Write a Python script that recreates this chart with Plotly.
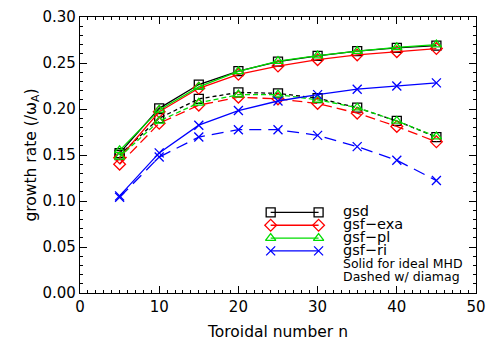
import plotly.graph_objects as go

# Toroidal mode numbers
n_vals = [5, 10, 15, 20, 25, 30, 35, 40, 45]

# Growth rates (normalised to omega_A), ideal MHD (solid)
gsd_ideal = [0.152, 0.2007, 0.2266, 0.2412, 0.2515, 0.2578, 0.2630, 0.2664, 0.2689]
exa_ideal = [0.147, 0.1970, 0.2225, 0.2377, 0.2467, 0.2536, 0.2588, 0.2623, 0.2657]
pl_ideal = [0.155, 0.1990, 0.2240, 0.2410, 0.2520, 0.2580, 0.2630, 0.2670, 0.2700]
ri_ideal = [0.1056, 0.1523, 0.1824, 0.1983, 0.2087, 0.2156, 0.2215, 0.2250, 0.2284]

# Growth rates with diamagnetic effects (dashed)
gsd_dia = [0.150, 0.1900, 0.2110, 0.2180, 0.2170, 0.2118, 0.2014, 0.1870, 0.1695]
exa_dia = [0.140, 0.1845, 0.2042, 0.2128, 0.2110, 0.2060, 0.1955, 0.1810, 0.1643]
pl_dia = [0.148, 0.1870, 0.2066, 0.2156, 0.2156, 0.2100, 0.2014, 0.1870, 0.1700]
ri_dia = [0.104, 0.1478, 0.1695, 0.1775, 0.1775, 0.1713, 0.1591, 0.1443, 0.1222]

y_ticks = [0.00, 0.05, 0.10, 0.15, 0.20, 0.25, 0.30]

series_names = ["gsd", "gsf\u2212exa", "gsf\u2212pl", "gsf\u2212ri"]
note_lines = ["Solid for ideal MHD", "Dashed w/ diamag"]
colors = ["black", "#ff0000", "#00dd00", "#0000ff"]
symbols = ["square-open", "diamond-open", "triangle-up-open", "x-thin-open"]
dashes = ["4px,3px", "10px,5px", "5px,3px", "12px,7px"]
ideal = [gsd_ideal, exa_ideal, pl_ideal, ri_ideal]
dia = [gsd_dia, exa_dia, pl_dia, ri_dia]

FONT = "DejaVu Sans"
LW = 1.3
MS = 9

fig = go.Figure()
for col, sym, dsh, yi, yd in zip(colors, symbols, dashes, ideal, dia):
    mk = dict(symbol=sym, size=MS, color=col, line=dict(color=col, width=LW))
    fig.add_trace(go.Scatter(x=n_vals, y=yd, mode="lines+markers", showlegend=False,
                             line=dict(color=col, width=LW, dash=dsh), marker=mk))
    fig.add_trace(go.Scatter(x=n_vals, y=yi, mode="lines+markers", showlegend=False,
                             line=dict(color=col, width=LW), marker=mk))

# Key drawn in a hidden unit-square overlay (IDL style: symbol at both ends of the sample line)
KEY_X0, KEY_X1, KEY_TXT = 0.4815, 0.6025, 0.660
KEY_ROW0, KEY_STEP = 0.292, 0.0465
for i, (name, col, sym) in enumerate(zip(series_names, colors, symbols)):
    ry = KEY_ROW0 - i * KEY_STEP
    fig.add_trace(go.Scatter(
        x=[KEY_X0, KEY_X1], y=[ry, ry], mode="lines+markers", xaxis="x2", yaxis="y2",
        showlegend=False, hoverinfo="skip",
        line=dict(color=col, width=LW),
        marker=dict(symbol=sym, size=MS, color=col, line=dict(color=col, width=LW)),
    ))
    fig.add_annotation(xref="x2", yref="y2", x=KEY_TXT, y=ry + 0.005, xanchor="left", yanchor="middle",
                       text=name, showarrow=False, font=dict(family=FONT, size=14.5, color="black"))
for j, txt in enumerate(note_lines):
    ry = KEY_ROW0 - (len(series_names) + j) * KEY_STEP
    fig.add_annotation(xref="x2", yref="y2", x=KEY_TXT, y=ry, xanchor="left", yanchor="middle",
                       text=txt, showarrow=False, font=dict(family=FONT, size=12.5, color="black"))

axis_common = dict(
    showline=True, linecolor="black", linewidth=1.2, mirror="allticks",
    ticks="inside", ticklen=7, tickwidth=1, tickcolor="black",
    showgrid=False, zeroline=False, ticklabeloverflow="allow",
    tickfont=dict(family=FONT, size=15, color="black"),
)

fig.update_xaxes(
    range=[0, 50], dtick=10, tick0=0,
    minor=dict(ticks="inside", dtick=1, ticklen=3, tickcolor="black"),
    title=dict(text="Toroidal number n", font=dict(family=FONT, size=15.5, color="black"), standoff=11),
    **axis_common,
)
fig.update_yaxes(
    range=[0, 0.30], tickmode="array", tickvals=y_ticks,
    ticktext=[f"{v:.2f}" for v in y_ticks],
    minor=dict(ticks="inside", dtick=0.01, tick0=0, ticklen=3, tickcolor="black"),
    title=dict(text="growth rate (/\u03c9<sub>A</sub>)", font=dict(family=FONT, size=15.5, color="black"), standoff=0),
    **axis_common,
)

fig.update_layout(
    width=494, height=346,
    margin=dict(l=80, r=9, t=8, b=52),
    paper_bgcolor="white", plot_bgcolor="white",
    showlegend=False,
    xaxis2=dict(overlaying="x", anchor="y2", range=[0, 1], visible=False, fixedrange=True),
    yaxis2=dict(overlaying="y", anchor="x2", range=[0, 1], visible=False, fixedrange=True),
)

fig.write_html("out.html")
